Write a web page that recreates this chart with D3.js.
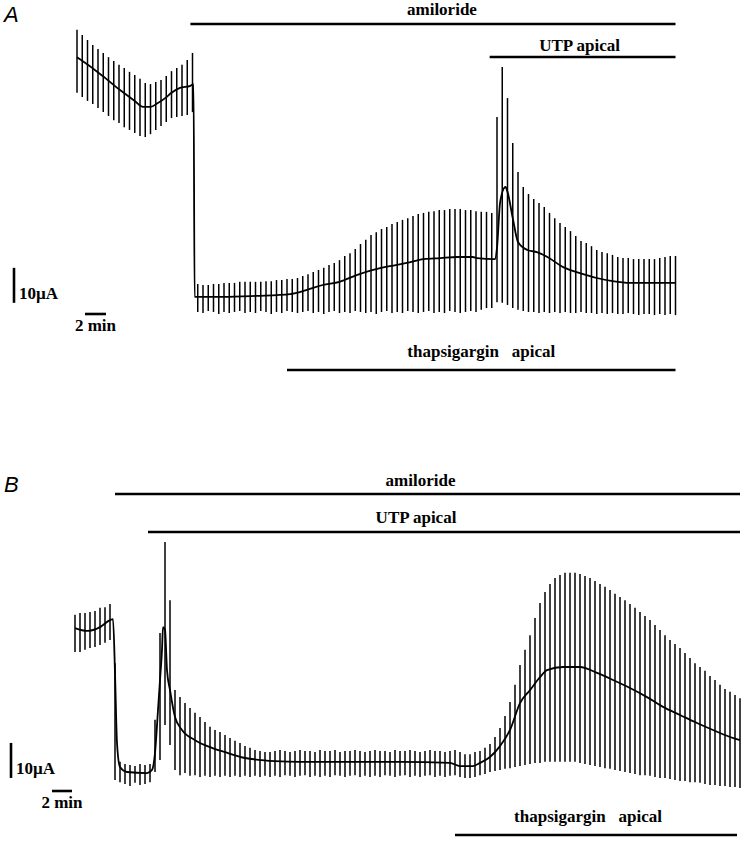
<!DOCTYPE html>
<html><head><meta charset="utf-8">
<script src="https://cdn.jsdelivr.net/npm/d3@7"></script>
<style>
html,body{margin:0;padding:0;background:#fff;}
svg{display:block;}
text{font-family:"Liberation Serif","Times New Roman",serif;font-weight:bold;font-size:17px;fill:#000;white-space:pre;}
text.panel{font-family:"Liberation Sans",Arial,sans-serif;font-style:italic;font-weight:normal;font-size:22px;}
</style>
</head><body>
<svg id="chart" width="746" height="841"></svg>
<script>
// ---------- DATA ----------
const pulseIntervalMin = 0.5;   // one current pulse every 30 s
const scaleCurrent = 10;        // µA
const scaleTime = 2;            // min

// Panel A: pulse envelope (µA), one value per pulse
const upperA = [82.9,81.4,80.0,78.6,77.4,76.3,75.1,74.0,72.9,72.0,70.9,70.0,68.9,67.7,67.4,68.0,68.6,69.7,71.1,72.0,72.9,74.3,76.3,
  10.3,10.0,10.0,10.3,10.3,10.6,10.6,10.6,10.9,10.9,10.9,10.9,10.9,11.1,11.1,11.4,11.4,11.7,11.7,12.0,
  12.6,13.1,13.7,14.3,14.9,15.7,16.3,17.1,18.3,19.1,20.3,21.7,22.9,24.3,25.1,26.0,26.6,27.4,28.0,28.6,
  29.1,29.7,30.3,30.6,30.9,31.1,31.4,31.4,31.7,31.7,31.7,31.4,31.4,31.1,30.9,30.9,30.6,58.0,72.3,63.4,
  50.6,42.3,38.0,36.0,34.6,33.4,32.3,30.6,29.1,27.7,26.6,25.4,24.0,22.6,22.0,21.1,20.0,19.4,19.1,18.6,
  18.0,17.7,17.7,17.4,17.4,17.4,17.4,17.4,17.7,18.0,18.3,18.3];
const lowerA = [64.9,63.7,62.6,61.7,60.6,59.4,58.3,57.1,56.3,55.1,54.3,53.4,52.6,52.3,53.1,54.3,55.4,56.6,57.7,58.0,58.3,58.6,59.4,
  2.3,2.0,2.6,2.3,1.7,2.3,2.0,2.3,2.6,2.0,2.3,2.0,2.6,2.3,1.7,2.3,2.0,2.6,2.3,2.0,
  2.3,2.6,2.0,2.3,1.7,2.3,2.6,2.0,2.3,2.0,2.6,2.3,2.0,2.3,1.7,2.3,2.6,2.0,2.3,2.0,
  2.6,2.3,2.0,2.3,2.6,2.0,2.3,2.0,2.6,2.3,2.0,2.3,2.6,2.3,2.9,3.4,3.4,5.1,4.9,4.3,
  3.4,2.9,2.6,2.3,2.3,2.0,2.3,2.0,2.3,2.0,2.3,2.0,2.0,2.3,2.0,2.0,1.7,2.0,1.7,2.0,
  1.7,1.7,2.0,1.7,1.4,1.7,1.7,1.4,1.7,1.4,1.7,1.4];
// Panel A: mean current trace (min, µA)
const meanTimeA = [0,1.2,2.7,4.1,5.5,6.3,7.0,7.7,8.4,9.0,9.8,10.8,11.1,11.2,11.7,13.9,17.1,20.3,21.9,23.4,
  25.0,26.7,28.2,29.8,31.4,33.0,34.6,36.2,37.7,38.1,39.8,40.0,40.3,40.8,41.0,41.5,42.0,42.9,43.8,44.8,
  46.3,47.9,49.5,51.0,52.7,54.3,55.8,57.0];
const meanValA = [75.1,72.6,69.1,65.7,62.6,60.9,60.9,62.0,63.4,64.9,66.3,66.9,67.4,6.6,6.6,6.6,6.9,7.4,8.6,10.0,
  10.9,12.9,14.3,15.4,16.3,17.4,17.7,18.0,18.0,17.7,17.4,20.6,33.7,38.0,36.6,29.1,22.3,20.0,19.4,18.0,
  15.1,13.4,12.0,11.1,10.6,10.6,10.6,10.6];
// Panel A: treatments (min)
const treatNamesA = ["amiloride", "UTP apical", "thapsigargin   apical"];
const treatStartA = [10.8, 39.3, 20.0];
const treatEndA = [57.0, 57.0, 57.0];

// Panel B
const upperB = [52.9,53.4,53.4,53.7,54.0,54.9,55.1,56.0,
  39.1,
  10.9,10.3,10.0,9.7,10.3,10.0,10.3,
  22.9,47.7,73.7,57.1,31.4,29.4,
  27.7,26.3,24.9,23.7,22.3,20.9,20.0,19.4,18.6,17.7,16.9,16.3,15.4,14.9,14.3,14.0,13.7,13.7,
  14.0,14.3,14.0,13.7,14.0,14.3,14.0,14.0,13.7,14.3,14.0,14.0,14.3,13.7,14.0,14.0,14.3,14.0,13.7,14.0,
  14.3,14.0,14.0,13.7,14.3,14.0,14.0,14.3,14.0,13.7,14.0,14.3,14.0,14.0,13.7,14.0,14.3,
  13.7,13.1,13.1,13.7,
  14.0,14.9,16.0,18.0,20.6,24.0,28.0,32.9,38.6,42.9,47.1,52.0,56.3,59.4,61.7,63.4,64.3,64.9,64.9,64.9,
  64.6,64.0,63.4,62.6,61.7,60.9,60.0,58.9,58.0,57.1,56.0,54.9,53.7,52.6,51.4,50.0,48.6,47.1,45.7,44.6,
  43.4,42.0,40.6,39.1,38.0,36.9,35.4,34.3,32.9,31.7,30.9,30.0,29.1];
const lowerB = [42.3,42.3,42.9,43.4,43.7,44.3,44.9,45.7,
  5.7,
  5.1,4.6,4.0,4.9,4.3,4.6,5.1,
  8.0,11.4,21.4,15.7,8.6,7.1,
  7.7,6.9,7.1,6.6,6.9,6.6,6.9,6.6,6.9,6.6,6.9,6.6,6.9,6.6,6.9,6.6,6.9,6.6,
  6.9,6.6,7.1,6.9,6.6,6.9,7.1,6.6,6.9,6.6,6.9,6.6,7.1,6.9,6.6,6.9,7.1,6.6,6.9,6.6,
  6.9,6.6,7.1,6.9,6.6,6.9,7.1,6.6,6.9,6.6,6.9,7.1,6.6,6.9,6.6,6.9,7.1,
  6.6,6.3,6.3,6.6,
  7.1,7.4,8.0,8.3,8.6,8.9,9.1,9.4,9.7,10.0,10.3,10.6,10.6,10.9,10.9,10.9,10.9,10.9,10.9,10.9,
  10.6,10.3,10.0,9.7,9.4,9.1,8.9,8.6,8.3,8.0,7.7,7.4,7.1,7.1,6.9,6.6,6.3,6.3,6.0,5.7,
  5.4,5.4,5.1,5.1,4.9,4.6,4.3,4.3,4.0,4.0,3.7,3.7,3.4];
const meanTimeB = [0,1.2,2.5,3.5,3.8,4.0,4.2,4.5,5.2,7.2,7.7,8.0,8.3,8.5,8.7,8.8,9.0,9.2,9.5,10.0,
  10.7,12.0,13.7,15.3,17.0,18.7,20.0,22.5,27.5,32.5,37.5,38.5,39.8,40.5,41.5,42.5,43.5,44.5,45.5,46.5,
  47.2,48.8,50.5,52.2,53.8,55.5,57.2,58.8,60.5,62.2,63.8,65.5,66.5];
const meanValB = [49.1,48.3,49.4,51.4,51.7,36.3,16.3,9.4,8.0,7.7,8.6,13.4,25.7,34.3,42.9,49.4,48.6,37.1,31.4,23.7,
  20.0,17.1,14.9,13.4,12.0,11.4,11.1,10.9,10.9,10.9,10.6,9.7,9.7,10.6,12.3,15.4,20.0,27.7,31.4,35.1,
  37.1,38.0,38.0,36.3,34.3,32.0,29.4,26.6,24.3,22.0,20.0,18.0,17.1];
const treatNamesB = ["amiloride", "UTP apical", "thapsigargin   apical"];
const treatStartB = [4.0, 7.3, 38.0];
const treatEndB = [66.5, 66.5, 66.2];

// ---------- DRAWING ----------
const svg = d3.select("#chart");

function drawPanel(cfg) {
  const g = svg.append("g");
  const x = d3.scaleLinear().domain(cfg.xDomain).range(cfg.xRange);
  const y = d3.scaleLinear().domain([0, 90]).range(cfg.yRange);

  g.append("text").attr("class", "panel").attr("x", 4).attr("y", cfg.letterY).text(cfg.letter);

  const pulses = cfg.upper.map((u, i) => ({t: i * pulseIntervalMin, u: u, l: cfg.lower[i]}));
  g.append("g").selectAll("line").data(pulses).join("line")
    .attr("x1", d => x(d.t)).attr("x2", d => x(d.t))
    .attr("y1", d => y(d.u)).attr("y2", d => y(d.l))
    .attr("stroke", "#000").attr("stroke-width", 1.5);

  const line = d3.line().x(d => x(d[0])).y(d => y(d[1])).curve(d3.curveMonotoneX);
  g.append("path").datum(cfg.meanT.map((t, i) => [t, cfg.meanV[i]]))
    .attr("d", line).attr("fill", "none").attr("stroke", "#000").attr("stroke-width", 1.8);

  cfg.names.forEach((name, i) => {
    const x0 = x(cfg.start[i]), x1 = x(cfg.end[i]);
    g.append("line").attr("x1", x0).attr("x2", x1)
      .attr("y1", cfg.barY[i]).attr("y2", cfg.barY[i])
      .attr("stroke", "#000").attr("stroke-width", 2.6);
    g.append("text").attr("x", (x0 + x1) / 2 + cfg.labelDx[i]).attr("y", cfg.barY[i] - cfg.labelGap[i])
      .attr("text-anchor", "middle").text(name);
  });

  // calibration bars
  const yb0 = y(cfg.calV), yb1 = y(cfg.calV + scaleCurrent);
  g.append("line").attr("x1", cfg.calX).attr("x2", cfg.calX).attr("y1", yb0).attr("y2", yb1)
    .attr("stroke", "#000").attr("stroke-width", 2.6);
  g.append("text").attr("x", cfg.calX + 5).attr("y", yb0 - 4).text("10µA");
  const xt0 = x(cfg.calT), xt1 = x(cfg.calT + scaleTime);
  g.append("line").attr("x1", xt0).attr("x2", xt1).attr("y1", cfg.calTY).attr("y2", cfg.calTY)
    .attr("stroke", "#000").attr("stroke-width", 2.6);
  g.append("text").attr("x", (xt0 + xt1) / 2).attr("y", cfg.calTY + 17)
    .attr("text-anchor", "middle").text("2 min");
}

drawPanel({
  letter: "A", letterY: 22,
  xDomain: [0, 57], xRange: [77, 675.5], yRange: [320, 5],
  upper: upperA, lower: lowerA, meanT: meanTimeA, meanV: meanValA,
  names: treatNamesA, start: treatStartA, end: treatEndA,
  barY: [24, 57, 370], labelGap: [9, 6, 13], labelDx: [9, -3, 0],
  calX: 14, calV: 4.9, calT: 0.76, calTY: 314
});
drawPanel({
  letter: "B", letterY: 492,
  xDomain: [0, 66.5], xRange: [75, 740], yRange: [800, 485],
  upper: upperB, lower: lowerB, meanT: meanTimeB, meanV: meanValB,
  names: treatNamesB, start: treatStartB, end: treatEndB,
  barY: [494, 532, 835], labelGap: [8, 9, 13], labelDx: [-7, -28, -8],
  calX: 11, calV: 6.3, calT: -2.3, calTY: 791
});
</script>
</body></html>
